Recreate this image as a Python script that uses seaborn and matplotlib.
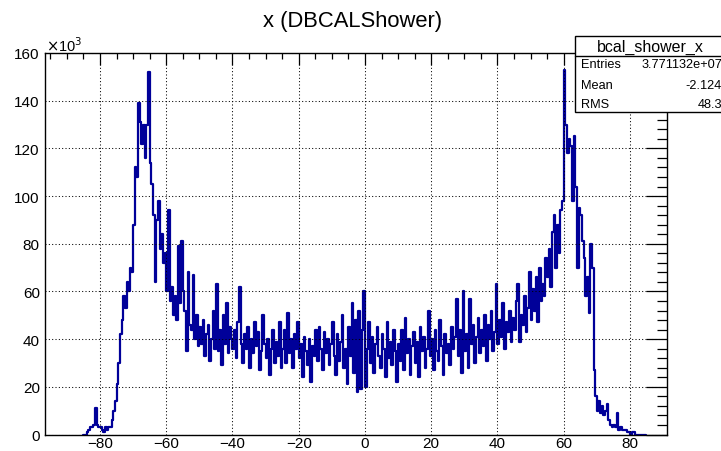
import numpy as np
import pandas as pd
import seaborn as sns
import matplotlib.pyplot as plt
from matplotlib.ticker import MultipleLocator
from matplotlib.patches import Rectangle
from matplotlib.lines import Line2D

# Histogram binning: 0.5 cm bins starting at -85
bin_lo = -85.0
bin_width = 0.5

# Bin contents in thousands of entries, 10 bins (5 units) per row
counts_k = [
    0, 0, 1, 2, 3, 3, 4, 11, 4, 3,              # -85 .. -80
    3, 2, 1, 3, 2, 3, 3, 6, 10, 14,             # -80 .. -75
    21, 30, 42, 48, 58, 53, 64, 60, 70, 68,     # -75 .. -70
    88, 112, 108, 139, 131, 122, 130, 116, 130, 152,  # -70 .. -65
    114, 105, 92, 64, 90, 98, 78, 84, 72, 76,   # -65 .. -60
    60, 94, 56, 62, 50, 58, 48, 79, 55, 81,     # -60 .. -55
    60, 52, 35, 68, 46, 44, 67, 40, 50, 37,     # -55 .. -50
    45, 38, 48, 33, 42, 46, 31, 40, 52, 36,     # -50 .. -45
    63, 35, 44, 29, 50, 38, 55, 34, 45, 40,     # -45 .. -40
    36, 44, 32, 47, 62, 38, 30, 42, 36, 45,     # -40 .. -35
    28, 40, 34, 47, 37, 43, 27, 35, 50, 38,     # -35 .. -30
    32, 40, 25, 36, 44, 30, 39, 33, 47, 28,     # -30 .. -25
    36, 44, 30, 51, 34, 40, 28, 42, 36, 47,     # -25 .. -20
    32, 38, 24, 41, 35, 29, 40, 22, 37, 33,     # -20 .. -15
    44, 31, 45, 36, 27, 43, 34, 40, 29, 38,     # -15 .. -10
    47, 33, 25, 42, 31, 39, 50, 28, 36, 21,     # -10 .. -5
    45, 33, 55, 26, 48, 18, 52, 19, 44, 60,     # -5 .. 0
    20, 36, 47, 30, 41, 26, 38, 45, 33, 28,     # 0 .. 5
    42, 36, 24, 47, 32, 39, 29, 44, 35, 22,     # 5 .. 10
    38, 31, 44, 27, 49, 34, 40, 25, 37, 43,     # 10 .. 15
    30, 39, 24, 45, 35, 41, 28, 36, 52, 33,     # 15 .. 20
    40, 27, 44, 35, 31, 48, 37, 25, 42, 34,     # 20 .. 25
    38, 29, 45, 36, 41, 57, 33, 44, 26, 60,     # 25 .. 30
    35, 42, 28, 57, 38, 46, 30, 41, 49, 34,     # 30 .. 35
    44, 37, 50, 31, 46, 40, 52, 35, 43, 63,     # 35 .. 40
    38, 48, 41, 55, 36, 47, 43, 52, 39, 49,     # 40 .. 45
    44, 56, 63, 39, 50, 46, 58, 43, 53, 68,     # 45 .. 50
    48, 61, 52, 66, 47, 70, 56, 63, 58, 74,     # 50 .. 55
    66, 78, 62, 85, 92, 70, 88, 76, 94, 98,     # 55 .. 60
    153, 130, 118, 124, 121, 98, 125, 104, 70, 95,  # 60 .. 65
    92, 81, 74, 58, 66, 51, 80, 70, 27, 16,     # 65 .. 70
    10, 14, 9, 12, 8, 10, 13, 6, 4, 3,          # 70 .. 75
    4, 3, 9, 2, 3, 2, 2, 2, 1, 1,               # 75 .. 80
    0, 1, 1, 0, 0, 0, 0, 0, 0, 0,               # 80 .. 85
]

x_ticks = [-80, -60, -40, -20, 0, 20, 40, 60, 80]
y_ticks = [0, 20, 40, 60, 80, 100, 120, 140, 160]

title_text = "x (DBCALShower)"
stat_name = "bcal_shower_x"
stat_labels = ["Entries", "Mean", "RMS"]
stat_values = ["3.771132e+07", "-2.124", "48.3"]

n_bins = len(counts_k)
bin_hi = bin_lo + bin_width * n_bins
centers = bin_lo + bin_width * (np.arange(n_bins) + 0.5)
df = pd.DataFrame({"x": centers, "w": counts_k})

sns.set_theme(style="white")
plt.rcParams["font.family"] = ["Liberation Sans", "DejaVu Sans"]
plt.rcParams["text.color"] = "black"

W, H = 721, 452
fig = plt.figure(figsize=(W / 100, H / 100), dpi=100)
ax = fig.add_axes([44.7 / W, 1 - 435.5 / H, (666.7 - 44.7) / W, (435.5 - 54) / H])

sns.histplot(data=df, x="x", weights="w", binwidth=bin_width,
             binrange=(bin_lo, bin_hi), element="step", fill=False,
             color="#000099", linewidth=1.6, ax=ax)

ax.set_xlim(-96.7, 91.1)
ax.set_ylim(0, 160)
ax.set_xticks(x_ticks)
ax.set_yticks(y_ticks)
ax.xaxis.set_minor_locator(MultipleLocator(5))
ax.yaxis.set_minor_locator(MultipleLocator(4))
ax.set_xlabel("")
ax.set_ylabel("")

for s in ax.spines.values():
    s.set_color("black")
    s.set_linewidth(1.0)

ax.tick_params(axis="both", which="both", direction="in", top=True, right=True,
               colors="black", labelcolor="black", width=0.9, labelsize=11)
ax.tick_params(axis="x", which="major", length=8.5, pad=1.2)
ax.tick_params(axis="x", which="minor", length=4)
ax.tick_params(axis="y", which="major", length=15, pad=3.5)
ax.tick_params(axis="y", which="minor", length=7.5)

ax.grid(True, which="major", color="black", linestyle=(0, (1, 2.2)), linewidth=0.75)
ax.set_axisbelow(False)

# Title and axis multiplier
fig.text(352.5 / W, 1 - 21 / H, title_text, ha="center", va="center",
         fontsize=15.8, color="black")
fig.text(46 / W, 1 - 46 / H, r"$\times$10$^{3}$", ha="left", va="center",
         fontsize=10.5, color="black")

# Statistics box
bx0, by_top, by_sep, by_bot = 575 / W, 1 - 37 / H, 1 - 56.7 / H, 1 - 113.3 / H
fig.patches.append(Rectangle((bx0, by_bot), 1.02 - bx0, by_top - by_bot,
                             transform=fig.transFigure, facecolor="white",
                             edgecolor="black", linewidth=1.0, zorder=5))
fig.lines.append(Line2D([bx0, 1.0], [by_sep, by_sep], transform=fig.transFigure,
                        color="black", linewidth=1.0, zorder=6))
fig.text(650 / W, 1 - 47 / H, stat_name, ha="center", va="center",
         fontsize=11.5, color="black", zorder=7)
for lab, val, yy in zip(stat_labels, stat_values, [65, 86, 105]):
    fig.text(581.5 / W, 1 - yy / H, lab, ha="left", va="center",
             fontsize=9.2, color="black", zorder=7)
    fig.text(722 / W, 1 - yy / H, val, ha="right", va="center",
             fontsize=9.2, color="black", zorder=7)

fig.savefig("out.png", dpi=100)
